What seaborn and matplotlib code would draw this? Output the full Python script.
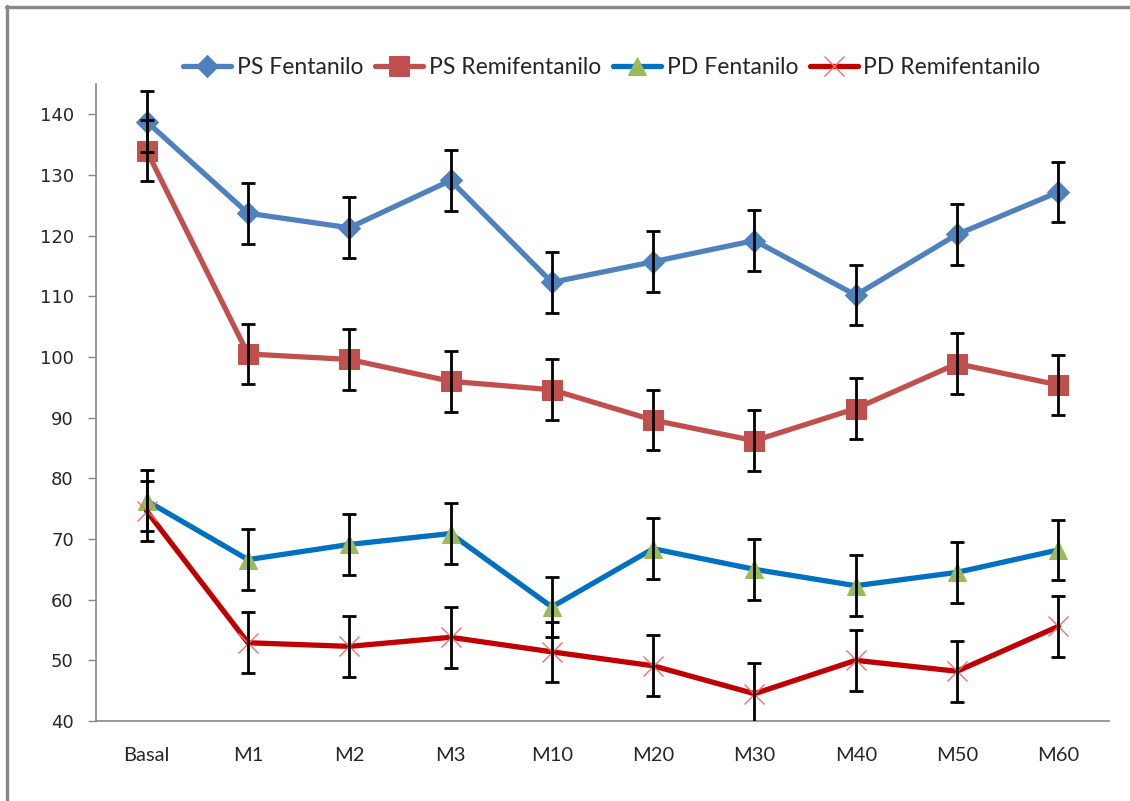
import matplotlib
matplotlib.use("Agg")
import matplotlib.pyplot as plt
import seaborn as sns
import pandas as pd
import numpy as np
from matplotlib.lines import Line2D

categories = ["Basal", "M1", "M2", "M3", "M10", "M20", "M30", "M40", "M50", "M60"]
ps_fentanilo = [138.8, 123.7, 121.3, 129.1, 112.3, 115.7, 119.2, 110.2, 120.2, 127.2]
ps_remifentanilo = [134.0, 100.5, 99.6, 96.0, 94.6, 89.6, 86.2, 91.5, 98.9, 95.4]
pd_fentanilo = [76.3, 66.6, 69.1, 70.9, 58.8, 68.4, 65.0, 62.3, 64.5, 68.2]
pd_remifentanilo = [74.6, 52.9, 52.3, 53.8, 51.4, 49.1, 44.5, 50.0, 48.2, 55.6]
err_ps_fentanilo = [5.0] * 10
err_ps_remifentanilo = [5.0] * 10
err_pd_fentanilo = [5.0] * 10
err_pd_remifentanilo = [5.0] * 10
series_names = ["PS Fentanilo", "PS Remifentanilo", "PD Fentanilo", "PD Remifentanilo"]

sns.set_theme(style="white")
plt.rcParams['font.family'] = ['DejaVu Sans']

fig = plt.figure(figsize=(11.3, 8.01), dpi=100)
ax = fig.add_axes([96/1130, 1-721/801, (1109-96)/1130, (721-84)/801])

x = np.arange(len(categories))
series = [
    (series_names[0], ps_fentanilo, err_ps_fentanilo, dict(color="#4F81BD", marker="D", markersize=11, markerfacecolor="#4F81BD", markeredgecolor="#4F81BD")),
    (series_names[1], ps_remifentanilo, err_ps_remifentanilo, dict(color="#C0504D", marker="s", markersize=14, markerfacecolor="#C0504D", markeredgecolor="#C0504D")),
    (series_names[2], pd_fentanilo, err_pd_fentanilo, dict(color="#0070C0", marker="^", markersize=13, markerfacecolor="#9BBB59", markeredgecolor="#9BBB59")),
    (series_names[3], pd_remifentanilo, err_pd_remifentanilo, dict(color="#C00000", marker="x", markersize=14, markerfacecolor="#F07070", markeredgecolor="#F07070", markeredgewidth=1.0)),
]

for name, vals, errs, style in series:
    df = pd.DataFrame({"x": x, "y": vals})
    sns.lineplot(data=df, x="x", y="y", ax=ax, linewidth=3.8, label=name, zorder=3, **style)
    ax.errorbar(x, vals, yerr=errs, fmt="none", ecolor="black", elinewidth=2, capsize=5, capthick=2, zorder=4)

ax.set_xlim(-0.5, len(categories) - 0.5)
ax.set_ylim(40, 145)
ax.set_yticks(np.arange(40, 141, 10))
ax.set_xticks(x)
ax.set_xticklabels(categories, fontfamily="Lato", fontsize=14.5)
ax.set_xticks(np.arange(-0.5, len(categories), 1), minor=True)
ax.tick_params(axis="x", which="major", length=0, pad=19)
ax.tick_params(axis="x", which="minor", length=6, width=1, color="#868686", direction="out")
ax.tick_params(axis="y", which="major", length=6, width=1, color="#868686", direction="out", labelsize=13, pad=10)
ax.tick_params(axis="both", bottom=True, left=True)
ax.set_xlabel("")
ax.set_ylabel("")
for s in ["top", "right"]:
    ax.spines[s].set_visible(False)
for s in ["left", "bottom"]:
    ax.spines[s].set_color("#868686")
    ax.spines[s].set_linewidth(1.2)
ax.grid(False)

leg = ax.legend(loc="center", bbox_to_anchor=(612/1130, 1-68/801), bbox_transform=fig.transFigure,
                ncol=4, frameon=False, prop={"family": "Lato", "size": 16.5},
                handlelength=2.1, columnspacing=0.5, handletextpad=0.25)

# outer chart-area border (only top and left edges are visible in the crop)
fig.add_artist(Line2D([6/1130, 1.0], [1-7/801, 1-7/801], transform=fig.transFigure, color="#888888", linewidth=2.4))
fig.add_artist(Line2D([7/1130, 7/1130], [0.0, 1-6/801], transform=fig.transFigure, color="#888888", linewidth=2.4))

fig.savefig("out.png", dpi=100)
